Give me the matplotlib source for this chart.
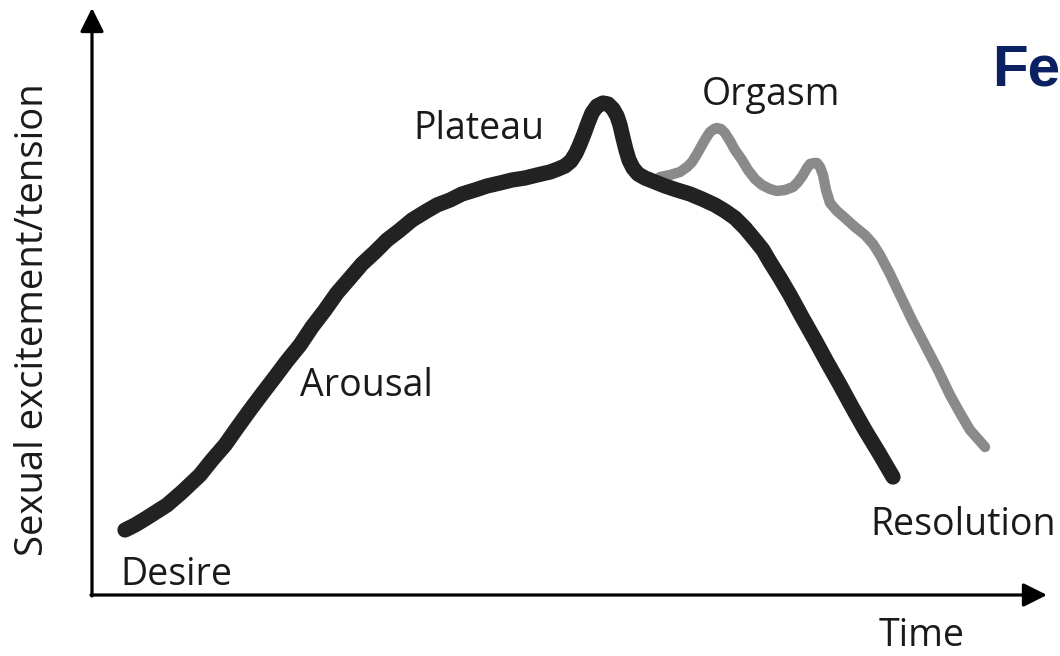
import matplotlib
matplotlib.use('Agg')
import matplotlib.pyplot as plt

plt.rcParams['font.family'] = ['Open Sans', 'DejaVu Sans']

# sexual response cycle (time, excitement) in arbitrary units
male_t = [33, 43, 53, 64, 75, 90, 108, 120, 133, 145, 158, 170, 183, 195, 208, 220,
          233, 245, 258, 270, 283, 295, 308, 320, 333, 345, 358, 370, 383, 395, 408,
          420, 433, 445, 458, 466, 473, 479, 484, 488, 492, 496, 500, 505, 511, 516,
          521, 525, 528, 531, 534, 537, 541, 546, 553, 563, 573, 585, 598, 610, 623,
          633, 643, 653, 663, 671, 678, 688, 698, 710, 723, 735, 748, 760, 773, 787, 801]
male_v = [65, 70, 76, 83, 90, 103, 120, 135, 150, 167, 185, 201, 218, 234, 250, 268,
          285, 302, 317, 331, 343, 355, 365, 375, 383, 390, 395, 401, 405, 409, 412,
          415, 417, 420, 423, 426, 429, 434, 442, 451, 461, 472, 482, 489, 492, 491,
          486, 479, 470, 457, 445, 435, 427, 421, 417, 413, 409, 405, 401, 396, 390,
          384, 377, 367, 355, 345, 333, 317, 300, 278, 255, 233, 210, 188, 165, 142, 118]

female_t = [568, 578, 588, 595, 600, 605, 610, 614, 618, 622, 625, 629, 633, 638,
            643, 650, 656, 663, 670, 678, 685, 693, 701, 706, 711, 715, 718, 722,
            725, 728, 731, 734, 738, 745, 753, 763, 773, 781, 788, 798, 808, 820,
            833, 846, 858, 868, 878, 886, 893]
female_v = [418, 420, 423, 428, 433, 441, 450, 457, 463, 466, 467, 466, 462, 454,
            445, 435, 425, 416, 410, 406, 404, 405, 408, 413, 420, 427, 431, 432,
            432, 428, 420, 405, 392, 384, 377, 368, 360, 351, 340, 321, 300, 275,
            250, 225, 200, 182, 165, 156, 148]

phase_labels = ['Desire', 'Arousal', 'Plateau', 'Orgasm', 'Resolution']
phase_t = [28, 208, 321, 610, 778]
phase_v = [20, 209, 466, 500, 70]

fig = plt.figure(figsize=(10.6, 6.56), dpi=100)
ax = fig.add_axes([92 / 1060, 61 / 656, 955 / 1060, 587 / 656])
ax.set_xlim(0, 955)
ax.set_ylim(0, 587)
ax.axis('off')

ax.plot(female_t, female_v, color='#8a8a8a', lw=7.5, solid_capstyle='round',
        solid_joinstyle='round')
ax.plot(male_t, male_v, color='#222222', lw=11, solid_capstyle='round',
        solid_joinstyle='round')

# axes with arrow heads
arrow = dict(arrowstyle='-|>', lw=2.3, color='black', mutation_scale=36,
             shrinkA=0, shrinkB=0)
ax.annotate('', xy=(0, 587), xytext=(0, -1), arrowprops=arrow, annotation_clip=False)
ax.annotate('', xy=(955, 0), xytext=(-1, 0), arrowprops=arrow, annotation_clip=False)

for lab, t, v in zip(phase_labels, phase_t, phase_v):
    ax.text(t, v, lab, fontsize=27, color='#1a1a1a', ha='left', va='center')

ax.text(830, -41, 'Time', fontsize=27, color='#1a1a1a', ha='center', va='center')
fig.text(33 / 1060, 1 - 320 / 656, 'Sexual excitement/tension', fontsize=27.5,
         color='#1a1a1a', rotation=90, ha='center', va='center')

fig.text(992 / 1060, 1 - 70 / 656, 'Fe', fontsize=42, fontweight='bold',
         color='#0b2161', family='Liberation Sans', ha='left', va='center')

fig.savefig('out.png', dpi=100)
